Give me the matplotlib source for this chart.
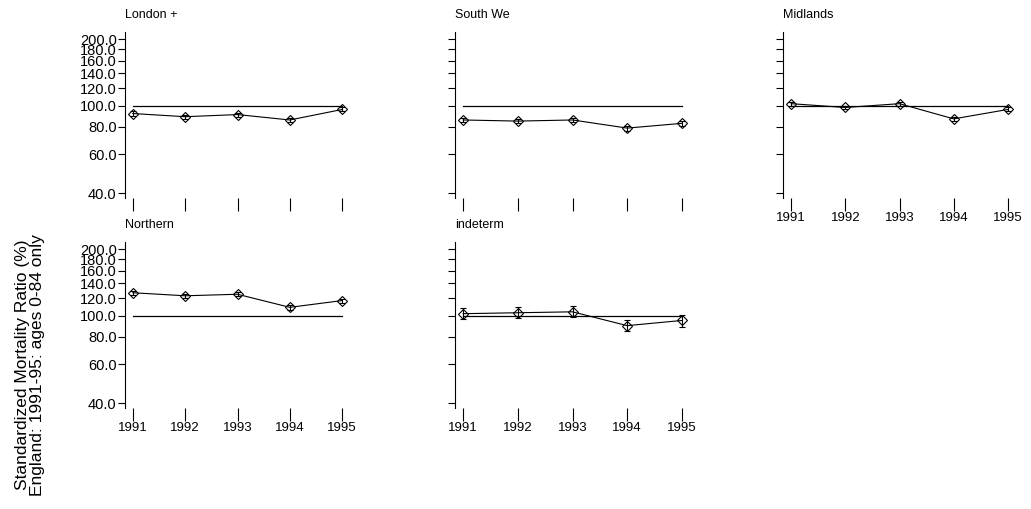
import numpy as np
import matplotlib.pyplot as plt

plt.rcParams["font.family"] = ["Liberation Sans", "DejaVu Sans"]

YEARS = [1991, 1992, 1993, 1994, 1995]
REGIONS = ["London +", "South We", "Midlands", "Northern", "indeterm"]
SMR = [
    [92, 89, 91, 86, 96],
    [86, 85, 86, 79, 83],
    [102, 98, 102, 87, 96],
    [127, 123, 125, 109, 117],
    [102, 103, 104, 90, 95],
]
ERR = [
    [2, 2, 2, 2, 2],
    [2, 2, 2, 2, 2],
    [2, 2, 2, 2, 2],
    [2.5, 2.5, 2.5, 2.5, 2.5],
    [6, 6, 6, 5, 6],
]
YTICKS = [40, 60, 80, 100, 120, 140, 160, 180, 200]

W, H = 1031, 509
fig = plt.figure(figsize=(W / 100, H / 100), dpi=100)

# axes boxes in pixels: left, top, width, height
boxes = [
    (125, 32, 225, 166),
    (455, 32, 235, 166),
    (783, 32, 233, 166),
    (125, 242, 225, 166),
    (455, 242, 235, 166),
]
show_x = [False, False, True, True, True]
show_y = [True, False, False, True, False]

for i, (l, t, w, h) in enumerate(boxes):
    ax = fig.add_axes([l / W, 1 - (t + h) / H, w / W, h / H])
    ax.set_yscale("log")
    ax.set_ylim(38, 216)
    ax.set_xlim(1990.85, 1995.15)
    ax.plot([YEARS[0], YEARS[-1]], [100, 100], color="black", lw=0.9)
    ax.errorbar(YEARS, SMR[i], yerr=ERR[i], color="black", lw=0.8,
                marker="D", ms=5, mfc="none", mec="black", mew=0.8,
                capsize=2.5, elinewidth=0.8)
    ax.minorticks_off()
    ax.set_yticks(YTICKS)
    if show_y[i]:
        ax.set_yticklabels([f"{v:.1f}" for v in YTICKS], fontsize=10.5,
                           linespacing=0.8)
    else:
        ax.set_yticklabels([])
    ax.set_xticks(YEARS)
    if show_x[i]:
        ax.set_xticklabels([str(y) for y in YEARS], fontsize=9.5)
    else:
        ax.set_xticklabels([])
    for s in ["top", "right", "bottom"]:
        ax.spines[s].set_visible(False)
    ax.spines["left"].set_linewidth(0.8)
    ax.tick_params(axis="y", length=5, width=0.8, pad=1)
    ax.tick_params(axis="x", length=9, width=0.8, pad=1)
    ax.text(l / W, 1 - (t - 17) / H, REGIONS[i], transform=fig.transFigure,
            fontsize=9, ha="left", va="center")

fig.text(0.029, 0.283, "Standardized Mortality Ratio (%)\nEngland: 1991-95: ages 0-84 only",
         rotation=90, ha="center", va="center", fontsize=12.5, linespacing=0.95)

fig.savefig("out.png", dpi=100)
